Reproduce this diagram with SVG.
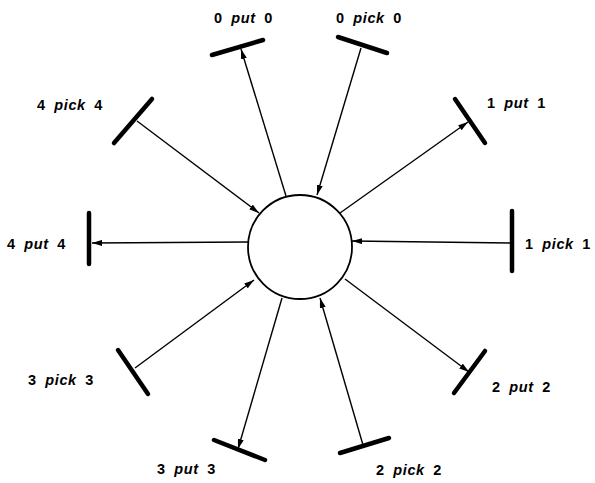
<svg xmlns="http://www.w3.org/2000/svg" width="595" height="483" viewBox="0 0 595 483">
  <style>
    .bar { stroke: #000; stroke-width: 4.5; stroke-linecap: round; fill: none; }
    .arc { stroke: #000; stroke-width: 1.4; fill: none; marker-end: url(#head); }
    .place { stroke: #000; stroke-width: 1.8; fill: #fff; }
    text { font-family: "Liberation Sans", Arial, sans-serif; font-weight: bold; font-size: 14.5px; letter-spacing: 0.6px; word-spacing: 4px; fill: #000; }
    .w { font-style: italic; }
  </style>
  <defs>
    <marker id="head" viewBox="0 0 10 6" refX="10" refY="3" markerWidth="10" markerHeight="6" markerUnits="userSpaceOnUse" orient="auto">
      <path d="M0,0 L10,3 L0,6 Z" fill="#000"/>
    </marker>
  </defs>

  <g id="connectors">
    <line class="arc" x1="286" y1="196" x2="241" y2="49"/>
    <line class="arc" x1="361" y1="48" x2="317" y2="195"/>
    <line class="arc" x1="137" y1="121" x2="259" y2="213"/>
    <line class="arc" x1="248" y1="242" x2="92" y2="243"/>
    <line class="arc" x1="340" y1="213" x2="468" y2="122"/>
    <line class="arc" x1="510" y1="243" x2="352" y2="241"/>
    <line class="arc" x1="135" y1="368" x2="254" y2="280"/>
    <line class="arc" x1="282" y1="298" x2="238" y2="449"/>
    <line class="arc" x1="363" y1="445" x2="320" y2="298"/>
    <line class="arc" x1="345" y1="279" x2="469" y2="372"/>
  </g>

  <g id="buffer">
    <circle class="place" cx="300" cy="247" r="52"/>
  </g>

  <g id="put0">
    <line class="bar" x1="212" y1="55" x2="263" y2="40"/>
    <text x="214" y="23">0 <tspan class="w">put</tspan> 0</text>
  </g>
  <g id="pick0">
    <line class="bar" x1="338" y1="37" x2="387" y2="53"/>
    <text x="336" y="23">0 <tspan class="w">pick</tspan> 0</text>
  </g>
  <g id="pick4">
    <line class="bar" x1="152" y1="99" x2="114" y2="143"/>
    <text x="37" y="110">4 <tspan class="w">pick</tspan> 4</text>
  </g>
  <g id="put4">
    <line class="bar" x1="89" y1="213" x2="89" y2="264"/>
    <text x="7" y="249">4 <tspan class="w">put</tspan> 4</text>
  </g>
  <g id="put1">
    <line class="bar" x1="455" y1="99" x2="485" y2="143"/>
    <text x="487" y="108">1 <tspan class="w">put</tspan> 1</text>
  </g>
  <g id="pick1">
    <line class="bar" x1="512" y1="211" x2="512" y2="271"/>
    <text x="525" y="249">1 <tspan class="w">pick</tspan> 1</text>
  </g>
  <g id="pick3">
    <line class="bar" x1="118" y1="350" x2="148" y2="394"/>
    <text x="28" y="385">3 <tspan class="w">pick</tspan> 3</text>
  </g>
  <g id="put3">
    <line class="bar" x1="214" y1="440" x2="265" y2="460"/>
    <text x="157" y="474">3 <tspan class="w">put</tspan> 3</text>
  </g>
  <g id="pick2">
    <line class="bar" x1="340" y1="453" x2="389" y2="438"/>
    <text x="376" y="475">2 <tspan class="w">pick</tspan> 2</text>
  </g>
  <g id="put2">
    <line class="bar" x1="485" y1="351" x2="454" y2="393"/>
    <text x="492" y="392">2 <tspan class="w">put</tspan> 2</text>
  </g>
</svg>
